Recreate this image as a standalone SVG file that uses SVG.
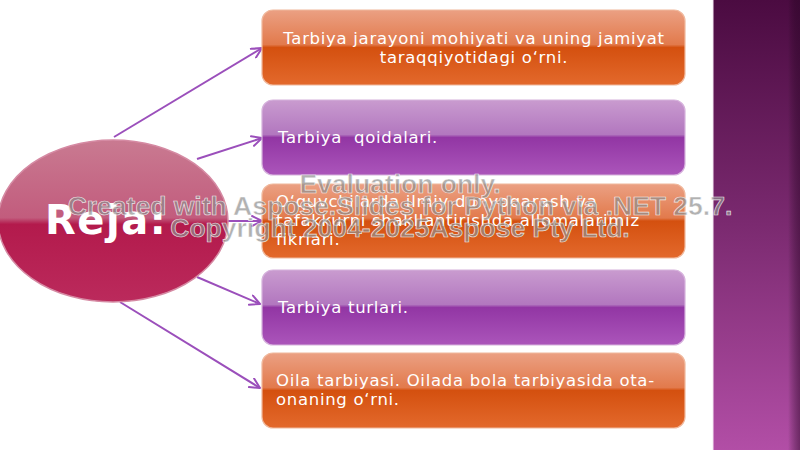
<svg xmlns="http://www.w3.org/2000/svg" width="800" height="450" viewBox="0 0 800 450">
<defs>
<linearGradient id="gOr" x1="0" y1="0" x2="0" y2="1">
<stop offset="0" stop-color="#eba083"/>
<stop offset="0.46" stop-color="#e27a4c"/>
<stop offset="0.5" stop-color="#d4500f"/>
<stop offset="1" stop-color="#e3692c"/>
</linearGradient>
<linearGradient id="gPu" x1="0" y1="0" x2="0" y2="1">
<stop offset="0" stop-color="#c99bcf"/>
<stop offset="0.46" stop-color="#b277bf"/>
<stop offset="0.5" stop-color="#9236a4"/>
<stop offset="1" stop-color="#ab55ba"/>
</linearGradient>
<linearGradient id="gEl" x1="0" y1="0" x2="0" y2="1">
<stop offset="0" stop-color="#c97a91"/>
<stop offset="0.48" stop-color="#c25c7d"/>
<stop offset="0.52" stop-color="#b31a4c"/>
<stop offset="1" stop-color="#bb2a5c"/>
</linearGradient>
<linearGradient id="gSide" x1="0" y1="0" x2="0" y2="1">
<stop offset="0" stop-color="#4b0b41"/>
<stop offset="0.5" stop-color="#7b2a70"/>
<stop offset="1" stop-color="#b24ea6"/>
</linearGradient>
<linearGradient id="gEdge" x1="0" y1="0" x2="1" y2="0">
<stop offset="0" stop-color="#000" stop-opacity="0"/>
<stop offset="1" stop-color="#2a0526" stop-opacity="0.5"/>
</linearGradient>
<marker id="arr" viewBox="0 0 12 12" refX="11" refY="6" markerWidth="12" markerHeight="12" markerUnits="userSpaceOnUse" orient="auto">
<path d="M1,1 L11,6 L1,11" fill="none" stroke="#9b4fbb" stroke-width="2" stroke-linecap="round" stroke-linejoin="round"/>
</marker>
</defs>
<style>
.box{stroke-width:1.2;}
.or{fill:url(#gOr);stroke:#f0b89c;}
.pu{fill:url(#gPu);stroke:#d6b2dc;}
.t{font-family:"DejaVu Sans",Verdana,sans-serif;font-size:16.5px;letter-spacing:0.7px;fill:#ffffff;}
.c{stroke:#9b4fbb;stroke-width:2;fill:none;marker-end:url(#arr);}
.wm{font-family:"Liberation Sans",Arial,sans-serif;font-weight:bold;font-size:26.5px;fill:#8e8e8e;fill-opacity:0.7;stroke:#ffffff;stroke-width:0.7;stroke-opacity:0.8;text-anchor:middle;}
</style>
<rect x="0" y="0" width="800" height="450" fill="#ffffff"/>
<g id="side">
<rect x="713" y="0" width="87" height="450" fill="url(#gSide)"/>
<rect x="788" y="0" width="12" height="450" fill="url(#gEdge)"/>
<line x1="713" y1="0" x2="713" y2="450" stroke="#f4e6f2" stroke-width="1"/>
</g>
<g id="connectors">
<line class="c" x1="114" y1="137" x2="262" y2="48"/>
<line class="c" x1="197" y1="159" x2="262" y2="138"/>
<line class="c" x1="228" y1="221" x2="262" y2="221"/>
<line class="c" x1="197" y1="277" x2="260" y2="304"/>
<line class="c" x1="120" y1="302" x2="260" y2="388"/>
</g>
<g id="center">
<ellipse cx="113" cy="221" rx="115" ry="81" fill="url(#gEl)" stroke="#d58aa3" stroke-width="1.5"/>
<text x="45" y="234" font-family="DejaVu Sans,Verdana,sans-serif" font-weight="bold" font-size="40" letter-spacing="1.5" fill="#ffffff">Reja:</text>
</g>
<g id="n1">
<rect class="box or" x="262" y="10" width="423" height="75" rx="11"/>
<text class="t" x="474" y="44" text-anchor="middle">Tarbiya jarayoni mohiyati va uning jamiyat</text>
<text class="t" x="474" y="63" text-anchor="middle">taraqqiyotidagi o‘rni.</text>
</g>
<g id="n2">
<rect class="box pu" x="262" y="100" width="423" height="75" rx="11"/>
<text class="t" x="278" y="143" xml:space="preserve">Tarbiya  qoidalari.</text>
</g>
<g id="n3">
<rect class="box or" x="262" y="184" width="423" height="74" rx="11"/>
<text class="t" x="276" y="207">O‘quvchilarda ilmiy dunyoqarash va</text>
<text class="t" x="276" y="226">tafakkurni shakllantirishda allomalarimiz</text>
<text class="t" x="276" y="245">fikrlari.</text>
</g>
<g id="n4">
<rect class="box pu" x="262" y="270" width="423" height="75" rx="11"/>
<text class="t" x="278" y="313">Tarbiya turlari.</text>
</g>
<g id="n5">
<rect class="box or" x="262" y="353" width="423" height="75" rx="11"/>
<text class="t" x="276" y="386">Oila tarbiyasi. Oilada bola tarbiyasida ota-</text>
<text class="t" x="276" y="405">onaning o‘rni.</text>
</g>
<g id="watermark">
<text class="wm" x="400" y="193">Evaluation only.</text>
<text class="wm" x="400" y="215">Created with Aspose.Slides for Python via .NET 25.7.</text>
<text class="wm" x="400" y="237">Copyright 2004-2025Aspose Pty Ltd.</text>
</g>
</svg>
